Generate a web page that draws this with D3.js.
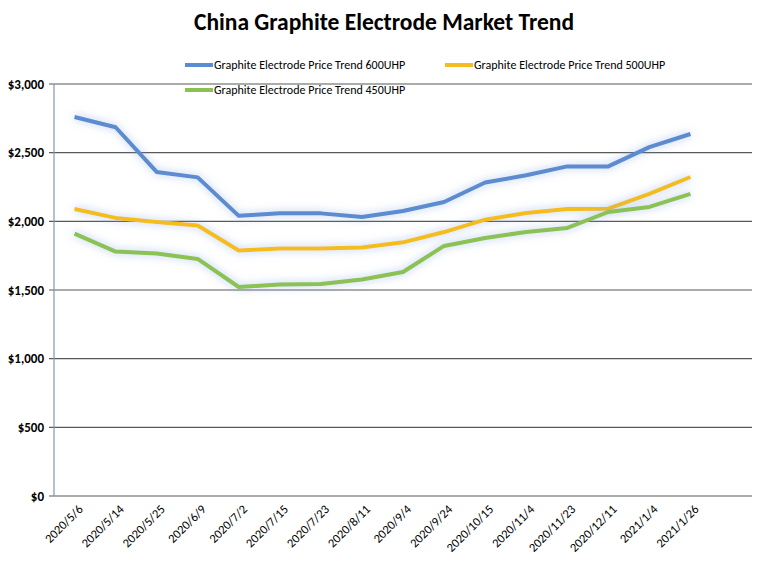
<!DOCTYPE html>
<html lang="en">
<head>
<meta charset="UTF-8">
<title>China Graphite Electrode Market Trend</title>
<script src="https://d3js.org/d3.v7.min.js"></script>
<style>
    body { margin: 0; background: #fff; }
    text { font-family: Calibri, Carlito, "Liberation Sans", Arial, sans-serif; }
</style>
</head>
<body>
<svg id="chart" width="764" height="562"></svg>
<script>
    // data
    const dates = ["2020/5/6", "2020/5/14", "2020/5/25", "2020/6/9", "2020/7/2", "2020/7/15",
                   "2020/7/23", "2020/8/11", "2020/9/4", "2020/9/24", "2020/10/15", "2020/11/4",
                   "2020/11/23", "2020/12/11", "2021/1/4", "2021/1/26"];
    const price600 = [2760, 2685, 2360, 2320, 2040, 2058, 2058, 2032, 2075, 2141, 2283, 2335, 2400, 2400, 2540, 2636];
    const price500 = [2090, 2025, 1995, 1970, 1788, 1803, 1803, 1810, 1847, 1922, 2012, 2061, 2090, 2092, 2200, 2323];
    const price450 = [1910, 1780, 1766, 1726, 1522, 1540, 1544, 1576, 1631, 1821, 1879, 1923, 1952, 2068, 2105, 2200];
    const yTicks = [0, 500, 1000, 1500, 2000, 2500, 3000];

    const series = [
        {name: "Graphite Electrode Price Trend 600UHP", values: price600, color: "#5b8bd0"},
        {name: "Graphite Electrode Price Trend 500UHP", values: price500, color: "#f3bd1f"},
        {name: "Graphite Electrode Price Trend 450UHP", values: price450, color: "#8cc152"}
    ];

    const svg = d3.select("#chart");
    const plot = {left: 54, right: 752, top: 84, bottom: 496};

    // 17 slots on the category axis, the last one empty
    const x = d3.scaleBand().domain(dates).range([plot.left, plot.left + (plot.right - plot.left) * 16 / 17]);
    const y = d3.scaleLinear().domain([0, 3000]).range([plot.bottom, plot.top]);

    const defs = svg.append("defs");
    const f = defs.append("filter").attr("id", "glow")
        .attr("x", "-10%").attr("y", "-30%").attr("width", "120%").attr("height", "160%");
    f.append("feGaussianBlur").attr("in", "SourceAlpha").attr("stdDeviation", 4.5).attr("result", "blur");
    f.append("feFlood").attr("flood-color", "#7fa4dc").attr("flood-opacity", 0.6);
    f.append("feComposite").attr("in2", "blur").attr("operator", "in").attr("result", "shadow");
    const m = f.append("feMerge");
    m.append("feMergeNode").attr("in", "shadow");
    m.append("feMergeNode").attr("in", "SourceGraphic");

    // title
    svg.append("text")
        .attr("x", 384).attr("y", 30)
        .attr("text-anchor", "middle")
        .style("font-size", "23.5px").style("font-weight", "bold")
        .text("China Graphite Electrode Market Trend");

    // grid lines
    svg.append("g").selectAll("line")
        .data(yTicks)
        .join("line")
        .attr("x1", plot.left - 5).attr("x2", plot.right)
        .attr("y1", d => y(d)).attr("y2", d => y(d))
        .attr("stroke", "#595959").attr("stroke-width", 1.2);

    // y axis line
    svg.append("line")
        .attr("x1", plot.left).attr("x2", plot.left).attr("y1", plot.top).attr("y2", plot.bottom)
        .attr("stroke", "#8497b0").attr("stroke-width", 1.2);

    // y labels
    svg.append("g").selectAll("text")
        .data(yTicks)
        .join("text")
        .attr("x", 44).attr("y", d => y(d) + 4.5)
        .attr("text-anchor", "end")
        .style("font-size", "13px").style("font-weight", "bold")
        .text(d => d3.format("$,")(d));

    // x labels
    svg.append("g").selectAll("text")
        .data(dates)
        .join("text")
        .attr("transform", d => "translate(" + (x(d) + x.bandwidth() / 2 + 6) + "," + (plot.bottom + 11) + ") rotate(-45)")
        .attr("text-anchor", "end")
        .attr("dy", "0.35em")
        .style("font-size", "12.5px")
        .text(d => d);

    // lines
    const line = d3.line()
        .x((d, i) => x(dates[i]) + x.bandwidth() / 2)
        .y(d => y(d));

    svg.append("g").selectAll("path")
        .data(series)
        .join("path")
        .attr("d", d => line(d.values))
        .attr("fill", "none")
        .attr("stroke", d => d.color)
        .attr("stroke-width", 4)
        .attr("stroke-linejoin", "round")
        .attr("filter", "url(#glow)");

    // legend
    const legendPos = [[185, 65], [445, 65], [185, 90]];
    const legend = svg.append("g").selectAll("g")
        .data(series)
        .join("g")
        .attr("transform", (d, i) => "translate(" + legendPos[i][0] + "," + legendPos[i][1] + ")");
    legend.append("line")
        .attr("x1", 0).attr("x2", 28).attr("y1", 0).attr("y2", 0)
        .attr("stroke", d => d.color).attr("stroke-width", 4);
    legend.append("text")
        .attr("x", 29).attr("y", 4)
        .style("font-size", "12px")
        .text(d => d.name);
</script>
</body>
</html>
